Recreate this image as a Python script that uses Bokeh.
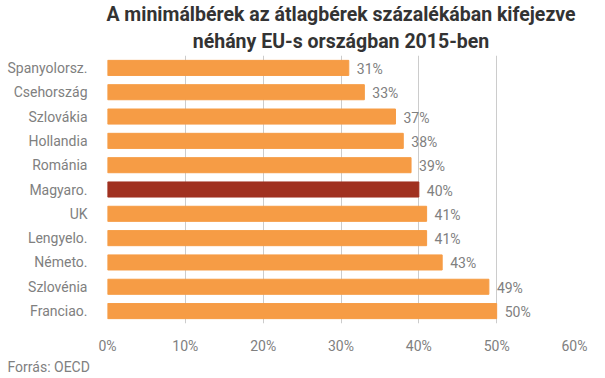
from bokeh.plotting import figure
from bokeh.models import Range1d, FixedTicker, Title, ColumnDataSource, LabelSet
from bokeh.core.properties import value
from bokeh.embed import file_html
from bokeh.resources import INLINE

countries = ["Spanyolorsz.", "Csehország", "Szlovákia", "Hollandia", "Románia",
             "Magyaro.", "UK", "Lengyelo.", "Németo.", "Szlovénia", "Franciao."]
values = [31, 33, 37, 38, 39, 40, 41, 41, 43, 49, 50]
x_ticks = [0, 10, 20, 30, 40, 50, 60]
title_lines = ["A minimálbérek az átlagbérek százalékában kifejezve",
               "néhány EU-s országban 2015-ben"]
source_text = "Forrás: OECD"

ORANGE = "#F69C45"
RED = "#A03120"
GRAY = "#808080"
colors = [RED if c == "Magyaro." else ORANGE for c in countries]
ypos = list(range(len(countries)))

src = ColumnDataSource(dict(y=ypos, v=values, c=colors,
                            lab=[f"{v}%" for v in values]))

p = figure(width=589, height=376, output_backend="svg", toolbar_location=None,
           x_range=Range1d(0, 60), y_range=Range1d(len(countries) - 1 + 0.51, -0.51),
           min_border_left=107, min_border_right=15, min_border_top=55, min_border_bottom=53)

p.hbar(y="y", right="v", left=0, height=0.62, color="c", source=src)

labels = LabelSet(x="v", y="y", text="lab", source=src, x_offset=8, y_offset=-1,
                  text_font=value("Roboto"), text_font_size="14px", text_color=GRAY,
                  text_baseline="middle")
p.add_layout(labels)

p.title.text = title_lines[0]
p.title.align = "center"
p.title.text_font = "Roboto"
p.title.text_font_size = "19.5px"
p.title.text_font_style = "bold"
p.title.text_color = "#333333"
p.title.text_line_height = 1.0
p.title.standoff = 0
t2 = Title(text=title_lines[1], align="center", text_font="Roboto", text_font_size="19.5px",
           text_font_style="bold", text_color="#333333", text_line_height=1.0, standoff=5)
p.add_layout(t2, "above")

src_title = Title(text=source_text, align="left", text_font="Roboto",
                  text_font_size="14px", text_font_style="normal", text_color=GRAY,
                  offset=-100, standoff=1)
p.add_layout(src_title, "below")

p.xaxis.ticker = FixedTicker(ticks=x_ticks)
p.xaxis.major_label_overrides = {t: f"{t}%" for t in x_ticks}
p.yaxis.ticker = FixedTicker(ticks=ypos)
p.yaxis.major_label_overrides = {i: c for i, c in enumerate(countries)}

for ax in (p.xaxis, p.yaxis):
    ax.axis_line_color = None
    ax.major_tick_line_color = None
    ax.minor_tick_line_color = None
    ax.major_label_text_font = "Roboto"
    ax.major_label_text_font_size = "14px"
    ax.major_label_text_color = GRAY
p.yaxis.major_label_standoff = 14
p.xaxis.major_label_standoff = 8

p.xgrid.grid_line_color = "#cccccc"
p.ygrid.grid_line_color = None
p.outline_line_color = None

open("out.html", "w").write(file_html(p, INLINE))
